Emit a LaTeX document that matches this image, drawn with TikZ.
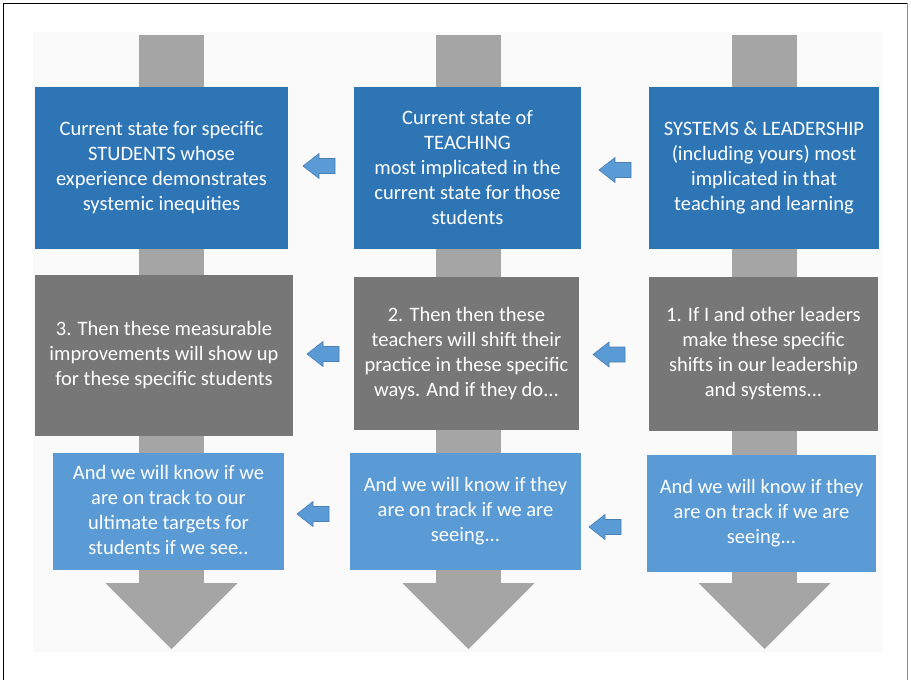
\documentclass[tikz,border=0pt]{standalone}
\usepackage{fontspec}
\setmainfont{Carlito}
\definecolor{darkblue}{HTML}{2E75B6}
\definecolor{lightblue}{HTML}{5B9BD5}
\definecolor{boxgray}{HTML}{777777}
\definecolor{shaftgray}{HTML}{A5A5A5}
\definecolor{arredge}{HTML}{4A7FB5}
\definecolor{bgfaint}{HTML}{FAFAFA}
\tikzset{
  card/.style={inner sep=0pt, align=center, text=white,
    font=\fontsize{20.5}{25}\selectfont},
  topcard/.style={card, fill=darkblue},
  midcard/.style={card, fill=boxgray},
  lowcard/.style={card, fill=lightblue},
  smallarr/.pic={\filldraw[fill=lightblue, draw=arredge, line width=0.6pt]
     (0,0) -- (16,-12.5) -- (16,-7.5) -- (32,-7.5) -- (32,7.5) -- (16,7.5) -- (16,12.5) -- cycle;},
}
\begin{document}
\begin{tikzpicture}[x=1pt,y=-1pt]
\useasboundingbox (0,0) rectangle (911,680);
% faint background and frame
\fill[bgfaint] (33,32) rectangle (883,652);
\draw[black, line width=1pt] (3,680) -- (3,3) -- (907,3);
\draw[black!45, line width=1pt] (907,3) -- (907,680);
% shafts and arrowheads
\foreach \cx in {171.5,468.5,764.5}{
  \fill[shaftgray] (\cx-32.5,35) rectangle (\cx+32.5,584);
  \fill[shaftgray] (\cx-66,583) -- (\cx+66,583) -- (\cx,649) -- cycle;
}
% row 1
\node[topcard, minimum width=253pt, minimum height=162pt] (a1) at (161.5,168)
  {Current state for specific\\ STUDENTS whose\\ experience demonstrates\\ systemic inequities};
\node[topcard, minimum width=227pt, minimum height=162pt] (a2) at (467.5,168)
  {Current state of\\ TEACHING\\ most implicated in the\\ current state for those\\ students};
\node[topcard, minimum width=230pt, minimum height=162pt] (a3) at (764,168)
  {SYSTEMS \& LEADERSHIP\\ (including yours) most\\ implicated in that\\ teaching and learning};
% row 2
\node[midcard, minimum width=258pt, minimum height=161pt] (b1) at (164,355.5)
  {3. Then these measurable\\ improvements will show up\\ for these specific students};
\node[midcard, minimum width=225pt, minimum height=153pt] (b2) at (466.5,353.5)
  {2. Then then these\\ teachers will shift their\\ practice in these specific\\ ways. And if they do...};
\node[midcard, minimum width=229pt, minimum height=154pt] (b3) at (763.5,354)
  {1. If I and other leaders\\ make these specific\\ shifts in our leadership\\ and systems...};
% row 3
\node[lowcard, minimum width=231pt, minimum height=117pt] (c1) at (168.5,511.5)
  {\raisebox{4pt}{\begin{tabular}{@{}c@{}}And we will know if we\\ are on track to our\\ ultimate targets for\\ students if we see..\end{tabular}}};
\node[lowcard, minimum width=231pt, minimum height=117pt] (c2) at (465.5,511.5)
  {And we will know if they\\ are on track if we are\\ seeing...};
\node[lowcard, minimum width=229pt, minimum height=117pt] (c3) at (761.5,513.5)
  {And we will know if they\\ are on track if we are\\ seeing...};
% small block arrows
\pic at (303,166) {smallarr};
\pic at (599,170) {smallarr};
\pic at (307,354) {smallarr};
\pic at (593,354.5) {smallarr};
\pic at (297,514) {smallarr};
\pic at (589,527) {smallarr};
\end{tikzpicture}
\end{document}
